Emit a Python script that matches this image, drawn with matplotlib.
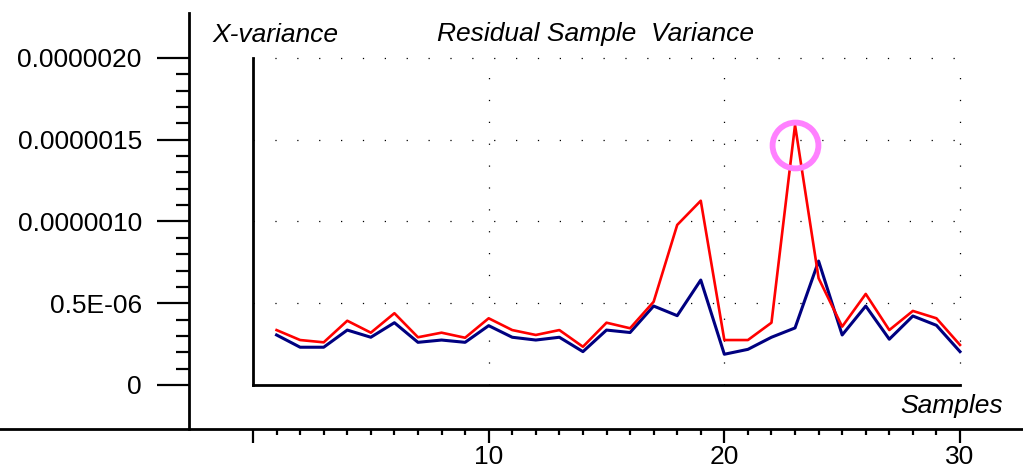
import numpy as np
import matplotlib
matplotlib.use("Agg")
import matplotlib.pyplot as plt
from matplotlib.ticker import FixedLocator, FixedFormatter

plt.rcParams['font.family'] = ['Liberation Sans', 'DejaVu Sans']

# samples 1..30, values in units of 1e-6
samples = np.arange(1, 31)
red_var = [0.336, 0.275, 0.261, 0.393, 0.320, 0.439, 0.292, 0.320, 0.289, 0.408,
           0.336, 0.306, 0.336, 0.234, 0.381, 0.347, 0.509, 0.979, 1.127, 0.275,
           0.275, 0.381, 1.590, 0.653, 0.357, 0.557, 0.336, 0.453, 0.408, 0.245]
blue_var = [0.306, 0.231, 0.231, 0.336, 0.292, 0.381, 0.261, 0.275, 0.261, 0.363,
            0.292, 0.275, 0.292, 0.204, 0.336, 0.321, 0.483, 0.424, 0.642, 0.188,
            0.218, 0.292, 0.349, 0.758, 0.306, 0.483, 0.280, 0.422, 0.365, 0.204]
highlight_x = [23]
highlight_y = [1.47]

y_ticks = [0, 0.5, 1.0, 1.5, 2.0]
y_labels = ["0", "0.5E-06", "0.0000010", "0.0000015", "0.0000020"]
x_ticks = [0, 10, 20, 30]
x_labels = ["", "10", "20", "30"]

red = np.array(red_var) * 1e-6
blue = np.array(blue_var) * 1e-6
hl_y = np.array(highlight_y) * 1e-6

W, H = 1023, 469
fig = plt.figure(figsize=(W / 100, H / 100), dpi=100)
fs = 19

# pixel layout
in_l, in_r, in_t, in_b = 253, 960, 58, 385   # inner plot box
out_t, out_b, yax_x = 13, 429, 189           # outer axes

# outer axes carrying the ticks
ax = fig.add_axes([0, (H - out_b) / H, 1, (out_b - out_t) / H])
sx = 30 / (in_r - in_l)
sy = 2e-6 / (in_b - in_t)
ax.set_xlim(-in_l * sx, 30 + (W - in_r) * sx)
ax.set_ylim(-(out_b - in_b) * sy, 2e-6 + (in_t - out_t) * sy)
ax.patch.set_visible(False)
for s in ['top', 'right']:
    ax.spines[s].set_visible(False)
ax.spines['left'].set_position(('axes', yax_x / W))
ax.spines['left'].set_linewidth(2)
ax.spines['bottom'].set_linewidth(2)

ax.yaxis.set_major_locator(FixedLocator([v * 1e-6 for v in y_ticks]))
ax.yaxis.set_major_formatter(FixedFormatter(y_labels))
ax.yaxis.set_minor_locator(FixedLocator(np.linspace(0, 2e-6, 21)))
ax.xaxis.set_major_locator(FixedLocator(x_ticks))
ax.xaxis.set_major_formatter(FixedFormatter(x_labels))
ax.xaxis.set_minor_locator(FixedLocator(range(0, 31)))
ax.tick_params(axis='y', which='major', direction='out', length=23, width=1.6,
               pad=11, labelsize=fs)
ax.tick_params(axis='y', which='minor', direction='out', length=9.5, width=1.6)
ax.tick_params(axis='x', which='major', direction='out', length=10, width=1.6,
               pad=1.5, labelsize=fs)
ax.tick_params(axis='x', which='minor', direction='out', length=4.3, width=1.6)

# inner plot box
ax2 = fig.add_axes([in_l / W, (H - in_b) / H, (in_r - in_l) / W, (in_b - in_t) / H])
ax2.set_xlim(0, 30)
ax2.set_ylim(0, 2e-6)
ax2.patch.set_visible(False)
for s in ['top', 'right']:
    ax2.spines[s].set_visible(False)
ax2.spines['left'].set_linewidth(2)
ax2.spines['bottom'].set_linewidth(2)
ax2.xaxis.set_major_locator(FixedLocator([10, 20, 30]))
ax2.yaxis.set_major_locator(FixedLocator([0.5e-6, 1.0e-6, 1.5e-6, 2.0e-6]))
ax2.tick_params(length=0, labelleft=False, labelbottom=False)
ax2.grid(True, color='black', linewidth=0.9, linestyle=(0, (1, 16.5)), clip_on=False)
ax2.set_axisbelow(True)

ax2.plot(samples, blue, color='#000080', linewidth=2.2, clip_on=False)
ax2.plot(samples, red, color='#ff0000', linewidth=1.9, clip_on=False)
ax2.plot(highlight_x, hl_y, 'o', markersize=33, markerfacecolor='none',
         markeredgecolor='#ff80ff', markeredgewidth=4.2, clip_on=False)

fig.text(213 / W, 1 - 42 / H, "X-variance", fontsize=fs, style='italic', va='baseline')
fig.text(437 / W, 1 - 41 / H, "Residual Sample  Variance", fontsize=fs,
         style='italic', va='baseline')
fig.text(900 / W, 1 - 413 / H, "Samples", fontsize=fs, style='italic', va='baseline')

fig.savefig("out.png", dpi=100)
